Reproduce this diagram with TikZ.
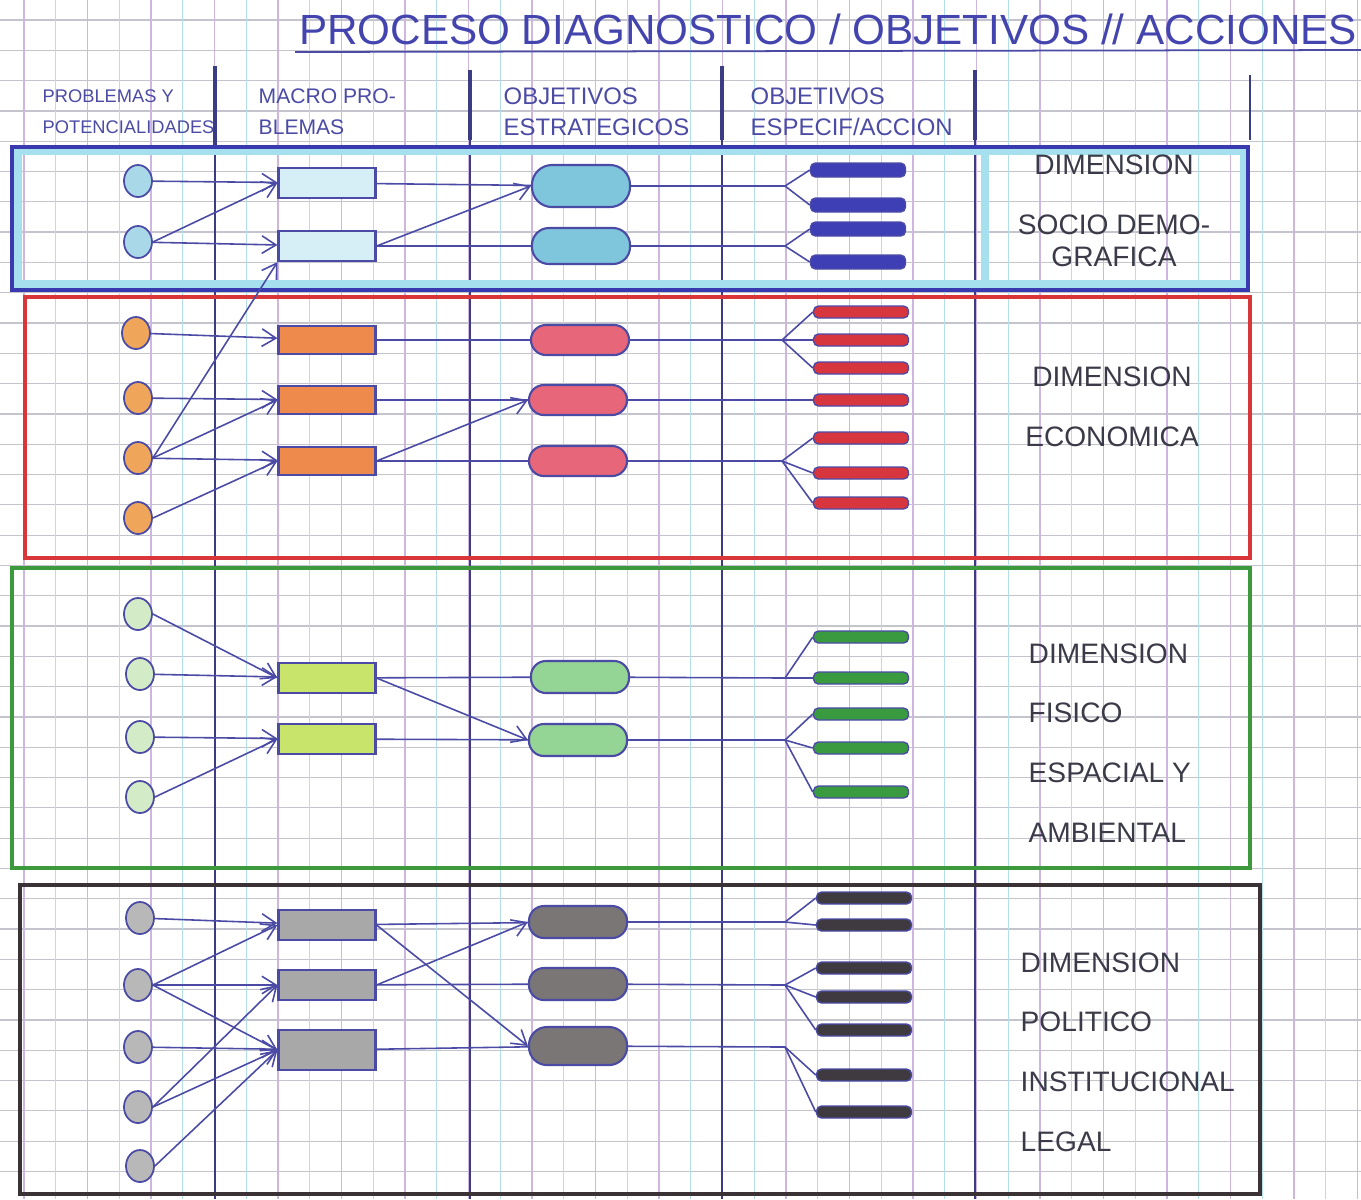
\documentclass[tikz,border=0pt]{standalone}
\usepackage{fontspec}
\setmainfont{Liberation Sans}
\usetikzlibrary{arrows.meta,shapes.geometric}
\definecolor{pen}{HTML}{4B4BA6}
\definecolor{ink}{HTML}{3A3A48}
\definecolor{gridh}{HTML}{C4C4CC}
\definecolor{gridp}{HTML}{CDB6E0}
\definecolor{gridc}{HTML}{B4DFE9}
\definecolor{socline}{HTML}{3A3AB0}
\definecolor{soccyan}{HTML}{A6E0EE}
\definecolor{socC}{HTML}{A9D8E8}
\definecolor{socR}{HTML}{D6EEF6}
\definecolor{socE}{HTML}{7FC6DD}
\definecolor{socA}{HTML}{3E3EB5}
\definecolor{ecoline}{HTML}{D9363A}
\definecolor{ecoC}{HTML}{EFA55A}
\definecolor{ecoR}{HTML}{EE8A4B}
\definecolor{ecoE}{HTML}{E8667A}
\definecolor{ecoA}{HTML}{D8363F}
\definecolor{fisline}{HTML}{3C9A3C}
\definecolor{fisC}{HTML}{D3EBC6}
\definecolor{fisR}{HTML}{C9E46A}
\definecolor{fisE}{HTML}{94D494}
\definecolor{fisA}{HTML}{3A9A40}
\definecolor{polline}{HTML}{3A3234}
\definecolor{polC}{HTML}{B8B8B8}
\definecolor{polR}{HTML}{A8A8A8}
\definecolor{polE}{HTML}{7A7676}
\definecolor{polA}{HTML}{3F3A40}

\begin{document}
\begin{tikzpicture}[
  x=0.01cm, y=-0.01cm,
  prob/.style={ellipse, draw=pen, line width=0.5pt, fill=#1, minimum width=0.28cm, minimum height=0.32cm, inner sep=0pt},
  macro/.style={rectangle, draw=pen, line width=0.6pt, fill=#1, minimum width=0.97cm, minimum height=0.3cm, inner sep=0pt},
  obj/.style={rectangle, rounded corners=0.15cm, draw=pen, line width=0.6pt, fill=#1, minimum width=0.98cm, minimum height=0.32cm, inner sep=0pt},
  acc/.style={rectangle, rounded corners=0.05cm, draw=pen, line width=0.4pt, fill=#1, minimum width=0.95cm, minimum height=0.12cm, inner sep=0pt},
  link/.style={draw=pen, line width=0.45pt},
  arr/.style={link, -{Straight Barb[length=4pt, width=5pt]}},
  head/.style={font=\fontsize{#1}{8.8}\selectfont, text=pen, anchor=west, align=left, inner sep=0pt},
  dimlabel/.style={font=\fontsize{8}{17}\selectfont, text=ink, align=#1, inner sep=0pt},
  band/.style={draw=#1, line width=1pt},
  colsep/.style={draw=pen!80!black, line width=0.45pt}
]
  \fill[white] (0,0) rectangle (1361,1199);
  \useasboundingbox (0,0) rectangle (1361,1199);
  \foreach \gy in {0,...,38}
    \draw[gridh, line width=0.35pt] (0,{20+30.3*\gy}) -- (1361,{20+30.3*\gy});
  \foreach \gx in {0,...,21}
    \draw[gridp, line width=0.35pt] ({24+63.5*\gx},0) -- ({24+63.5*\gx},1199);
  \foreach \gx in {0,...,20}
    \draw[gridc, line width=0.35pt] ({55.75+63.5*\gx},0) -- ({55.75+63.5*\gx},1199);

  \node[font=\fontsize{12}{14}\selectfont, text=pen!90!blue, inner sep=0pt] (titulo) at (828,29) {PROCESO DIAGNOSTICO / OBJETIVOS // ACCIONES};
  \draw[pen, line width=0.5pt] (295,52) -- (1361,50);

  \node[head=5.2] (hprob) at (42,112) {PROBLEMAS Y\\POTENCIALIDADES};
  \node[head=6] (hmacro) at (258,112) {MACRO PRO-\\BLEMAS};
  \node[head=6.8] (hestr) at (503,112) {OBJETIVOS\\ESTRATEGICOS};
  \node[head=6.8] (hesp) at (750,112) {OBJETIVOS\\ESPECIF/ACCION};

  \draw[colsep, line width=1pt] (215,66) -- (215,145);
  \draw[colsep, line width=1pt] (470,70) -- (470,140);
  \draw[colsep, line width=1pt] (722,66) -- (722,140);
  \draw[colsep, line width=1pt] (975,70) -- (975,140);
  \draw[colsep] (1250,75) -- (1250,140);
  \draw[colsep] (215,145) -- (215,1199);
  \draw[colsep] (470,140) -- (470,1199);
  \draw[colsep] (722,140) -- (722,1199);
  \draw[colsep] (975,140) -- (975,1199);

  \draw[soccyan, line width=2.5pt] (18,151) rectangle (1244,284);
  \draw[soccyan, line width=2.5pt] (985,151) -- (985,284);
  \draw[band=socline] (12,147) rectangle (1248,290);
  \draw[band=ecoline, line width=1.2pt] (25,297) rectangle (1250,558);
  \draw[band=fisline] (12,568) rectangle (1250,868);
  \draw[band=polline, line width=1.2pt] (20,885) rectangle (1260,1194);

  \node[prob=socC] (socP1) at (138,181) {};
  \node[prob=socC] (socP2) at (138,242) {};
  \node[macro=socR] (socM1) at (327,183) {};
  \node[macro=socR] (socM2) at (327,246) {};
  \node[obj=socE, minimum height=0.42cm, rounded corners=0.2cm] (socE1) at (581,186) {};
  \node[obj=socE, minimum height=0.36cm, rounded corners=0.17cm] (socE2) at (581,246) {};
  \node[acc=socA, minimum height=0.14cm] (socA1) at (858,170) {};
  \node[acc=socA, minimum height=0.14cm] (socA2) at (858,205) {};
  \node[acc=socA, minimum height=0.14cm] (socA3) at (858,229) {};
  \node[acc=socA, minimum height=0.14cm] (socA4) at (858,262) {};

  \node[prob=ecoC] (ecoP1) at (136,333) {};
  \node[prob=ecoC] (ecoP2) at (138,398) {};
  \node[prob=ecoC] (ecoP3) at (138,458) {};
  \node[prob=ecoC] (ecoP4) at (138,518) {};
  \node[macro=ecoR, minimum height=0.28cm] (ecoM1) at (327,340) {};
  \node[macro=ecoR, minimum height=0.28cm] (ecoM2) at (327,400) {};
  \node[macro=ecoR, minimum height=0.28cm] (ecoM3) at (327,461) {};
  \node[obj=ecoE, minimum height=0.3cm] (ecoE1) at (580,340) {};
  \node[obj=ecoE, minimum height=0.3cm] (ecoE2) at (578,400) {};
  \node[obj=ecoE, minimum height=0.3cm] (ecoE3) at (578,461) {};
  \node[acc=ecoA] (ecoA1) at (861,312) {};
  \node[acc=ecoA] (ecoA2) at (861,340) {};
  \node[acc=ecoA] (ecoA3) at (861,368) {};
  \node[acc=ecoA] (ecoA4) at (861,400) {};
  \node[acc=ecoA] (ecoA5) at (861,438) {};
  \node[acc=ecoA] (ecoA6) at (861,473) {};
  \node[acc=ecoA] (ecoA7) at (861,503) {};

  \node[prob=fisC] (fisP1) at (138,614) {};
  \node[prob=fisC] (fisP2) at (140,674) {};
  \node[prob=fisC] (fisP3) at (140,737) {};
  \node[prob=fisC] (fisP4) at (140,797) {};
  \node[macro=fisR] (fisM1) at (327,678) {};
  \node[macro=fisR] (fisM2) at (327,739) {};
  \node[obj=fisE] (fisE1) at (580,677) {};
  \node[obj=fisE] (fisE2) at (578,740) {};
  \node[acc=fisA] (fisA1) at (861,637) {};
  \node[acc=fisA] (fisA2) at (861,678) {};
  \node[acc=fisA] (fisA3) at (861,714) {};
  \node[acc=fisA] (fisA4) at (861,748) {};
  \node[acc=fisA] (fisA5) at (861,792) {};

  \node[prob=polC] (polP1) at (140,918) {};
  \node[prob=polC] (polP2) at (138,985) {};
  \node[prob=polC] (polP3) at (138,1047) {};
  \node[prob=polC] (polP4) at (138,1107) {};
  \node[prob=polC] (polP5) at (140,1166) {};
  \node[macro=polR] (polM1) at (327,925) {};
  \node[macro=polR] (polM2) at (327,985) {};
  \node[macro=polR, minimum height=0.4cm] (polM3) at (327,1050) {};
  \node[obj=polE] (polE1) at (578,922) {};
  \node[obj=polE] (polE2) at (578,984) {};
  \node[obj=polE, minimum height=0.38cm, rounded corners=0.18cm] (polE3) at (578,1046) {};
  \node[acc=polA] (polA1) at (864,898) {};
  \node[acc=polA] (polA2) at (864,925) {};
  \node[acc=polA] (polA3) at (864,968) {};
  \node[acc=polA] (polA4) at (864,997) {};
  \node[acc=polA] (polA5) at (864,1030) {};
  \node[acc=polA] (polA6) at (864,1075) {};
  \node[acc=polA] (polA7) at (864,1112) {};

  \coordinate (socF1) at (785,186);
  \coordinate (socF2) at (785,246);
  \coordinate (ecoF1) at (782,340);
  \coordinate (ecoF3) at (782,461);
  \coordinate (fisF1) at (785,678);
  \coordinate (fisF2) at (785,740);
  \coordinate (polF1) at (785,922);
  \coordinate (polF2) at (785,985);
  \coordinate (polF3) at (785,1047);

  \draw[arr] (socP1) -- (socM1);
  \draw[arr] (socP2.east) -- (socM1.west);
  \draw[arr] (socP2) -- (socM2);
  \draw[link] (socM1) -- (socE1);
  \draw[arr] (socM2.east) -- (socE1.west);
  \draw[link] (socM2) -- (socE2);
  \draw[link] (socE1) -- (socF1) -- (socA1.west);
  \draw[link] (socF1) -- (socA2.west);
  \draw[link] (socE2) -- (socF2) -- (socA3.west);
  \draw[link] (socF2) -- (socA4.west);

  \draw[arr] (ecoP1) -- (ecoM1);
  \draw[arr] (ecoP2) -- (ecoM2);
  \draw[arr] (ecoP3) -- (ecoM3);
  \draw[arr] (ecoP3.east) -- (ecoM2.west);
  \draw[arr] (ecoP3.east) -- (socM2.south west);
  \draw[arr] (ecoP4.east) -- (ecoM3.west);
  \draw[link] (ecoM1) -- (ecoE1);
  \draw[link] (ecoM2) -- (ecoE2);
  \draw[link] (ecoM3) -- (ecoE3);
  \draw[arr] (ecoM3.east) -- (ecoE2.west);
  \draw[link] (ecoE1) -- (ecoF1) -- (ecoA2.west);
  \draw[link] (ecoF1) -- (ecoA1.west);
  \draw[link] (ecoF1) -- (ecoA3.west);
  \draw[link] (ecoE2) -- (ecoA4);
  \draw[link] (ecoE3) -- (ecoF3) -- (ecoA5.west);
  \draw[link] (ecoF3) -- (ecoA6.west);
  \draw[link] (ecoF3) -- (ecoA7.west);

  \draw[arr] (fisP1.east) -- (fisM1.west);
  \draw[arr] (fisP2) -- (fisM1);
  \draw[arr] (fisP3) -- (fisM2);
  \draw[arr] (fisP4.east) -- (fisM2.west);
  \draw[link] (fisM1) -- (fisE1);
  \draw[arr] (fisM1.east) -- (fisE2.west);
  \draw[link] (fisM2) -- (fisE2);
  \draw[link] (fisE1) -- (fisF1) -- (fisA1.west);
  \draw[link] (fisF1) -- (fisA2.west);
  \draw[link] (fisE2) -- (fisF2) -- (fisA3.west);
  \draw[link] (fisF2) -- (fisA4.west);
  \draw[link] (fisF2) -- (fisA5.west);

  \draw[arr] (polP1) -- (polM1);
  \draw[arr] (polP2.east) -- (polM1.west);
  \draw[arr] (polP2) -- (polM2);
  \draw[arr] (polP2.east) -- (polM3.west);
  \draw[arr] (polP3) -- (polM3);
  \draw[arr] (polP4.east) -- (polM2.west);
  \draw[arr] (polP4.east) -- (polM3.west);
  \draw[arr] (polP5.east) -- (polM3.west);
  \draw[link] (polM1) -- (polE1);
  \draw[arr] (polM1.east) -- (polE3.west);
  \draw[arr] (polM2.east) -- (polE1.west);
  \draw[link] (polM2) -- (polE2);
  \draw[link] (polM3) -- (polE3);
  \draw[link] (polE1) -- (polF1) -- (polA1.west);
  \draw[link] (polF1) -- (polA2.west);
  \draw[link] (polE2) -- (polF2) -- (polA3.west);
  \draw[link] (polF2) -- (polA4.west);
  \draw[link] (polF2) -- (polA5.west);
  \draw[link] (polE3) -- (polF3) -- (polA6.west);
  \draw[link] (polF3) -- (polA7.west);

  \node[dimlabel=center] (dimSoc) at (1114,211) {DIMENSION\\SOCIO DEMO-\\[-8pt]GRAFICA};
  \node[dimlabel=center] (dimEco) at (1112,407) {DIMENSION\\ECONOMICA};
  \node[dimlabel=left, anchor=west] (dimFis) at (1028,743) {DIMENSION\\FISICO\\ESPACIAL Y\\AMBIENTAL};
  \node[dimlabel=left, anchor=west] (dimPol) at (1020,1052) {DIMENSION\\POLITICO\\INSTITUCIONAL\\LEGAL};
\end{tikzpicture}
\end{document}
